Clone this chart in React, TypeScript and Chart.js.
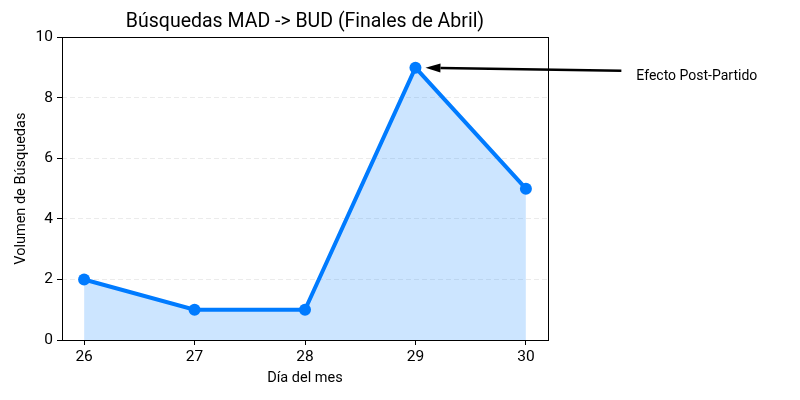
import React, { useEffect, useRef } from "react";
import { Chart, registerables } from "chart.js";

Chart.register(...registerables);

const days = [26, 27, 28, 29, 30];
const searches = [2, 1, 1, 9, 5];
const yTicks = [0, 2, 4, 6, 8, 10];
const annotationLabel = "Efecto Post-Partido";
const annotationPoint = { x: 29, y: 9 };
const annotationText = { x: 31.0, y: 8.7 };

const FONT = "Roboto, 'DejaVu Sans', sans-serif";

const decorPlugin = {
  id: "decor",
  afterDraw(chart: any) {
    const { ctx, chartArea, scales } = chart;
    ctx.save();
    ctx.strokeStyle = "#000";
    ctx.lineWidth = 1;
    ctx.strokeRect(
      Math.round(chartArea.left) + 0.5,
      Math.round(chartArea.top) + 0.5,
      Math.round(chartArea.right - chartArea.left),
      Math.round(chartArea.bottom - chartArea.top)
    );
    const px = scales.x.getPixelForValue(annotationPoint.x);
    const py = scales.y.getPixelForValue(annotationPoint.y);
    const tx = scales.x.getPixelForValue(annotationText.x);
    const ty = scales.y.getPixelForValue(annotationText.y);
    const tailX = tx - 15;
    const tailY = ty - 6;
    const tipX = px + 10;
    const tipY = py;
    const ang = Math.atan2(tipY - tailY, tipX - tailX);
    const headLen = 15;
    const headW = 4.5;
    const baseX = tipX - headLen * Math.cos(ang);
    const baseY = tipY - headLen * Math.sin(ang);
    ctx.strokeStyle = "#000";
    ctx.lineWidth = 2.5;
    ctx.beginPath();
    ctx.moveTo(tailX, tailY);
    ctx.lineTo(baseX, baseY);
    ctx.stroke();
    ctx.fillStyle = "#000";
    ctx.beginPath();
    ctx.moveTo(tipX, tipY);
    ctx.lineTo(baseX + headW * Math.sin(ang), baseY - headW * Math.cos(ang));
    ctx.lineTo(baseX - headW * Math.sin(ang), baseY + headW * Math.cos(ang));
    ctx.closePath();
    ctx.fill();
    ctx.font = `14px ${FONT}`;
    ctx.textAlign = "left";
    ctx.textBaseline = "middle";
    ctx.fillText(annotationLabel, tx, ty);
    ctx.restore();
  },
};

export default function App() {
  const ref = useRef<HTMLCanvasElement>(null);
  useEffect(() => {
    if (!ref.current) return;
    const chart = new Chart(ref.current, {
      type: "line",
      data: {
        datasets: [
          {
            data: days.map((d, i) => ({ x: d, y: searches[i] })),
            borderColor: "#007bff",
            backgroundColor: "rgba(0,123,255,0.2)",
            borderWidth: 4,
            fill: "origin",
            pointRadius: 6,
            pointHoverRadius: 6,
            pointBackgroundColor: "#007bff",
            pointBorderColor: "#007bff",
            pointBorderWidth: 0,
            tension: 0,
          },
        ],
      },
      options: {
        responsive: false,
        animation: false,
        layout: { padding: { left: 0, right: 252, top: 0, bottom: 0 } },
        plugins: {
          legend: { display: false },
          tooltip: { enabled: false },
          title: {
            display: true,
            text: "Búsquedas MAD -> BUD (Finales de Abril)",
            fullSize: false,
            color: "#000",
            font: { family: FONT, size: 19.5, weight: "normal" },
            padding: { top: 10, bottom: 4 },
          },
        },
        scales: {
          x: {
            type: "linear",
            min: 25.8,
            max: 30.2,
            afterBuildTicks: (s: any) => {
              s.ticks = days.map((d) => ({ value: d }));
            },
            afterFit: (s: any) => {
              s.height = 60;
            },
            grid: {
              display: true,
              drawOnChartArea: false,
              drawTicks: true,
              tickLength: 5,
              tickColor: "#000",
              color: "#000",
            },
            border: { display: false },
            ticks: {
              color: "#000",
              font: { family: FONT, size: 15.5 },
              padding: 3,
              maxRotation: 0,
              callback: (v: any) => String(v),
            },
            title: {
              display: true,
              text: "Día del mes",
              color: "#000",
              font: { family: FONT, size: 14.5 },
              padding: { top: 4, bottom: 13 },
            },
          },
          y: {
            min: 0,
            max: 10,
            afterBuildTicks: (s: any) => {
              s.ticks = yTicks.map((v) => ({ value: v }));
            },
            afterFit: (s: any) => {
              s.width = 62;
            },
            grid: {
              display: true,
              color: (c: any) =>
                c.tick && (c.tick.value === 0 || c.tick.value === 10)
                  ? "rgba(0,0,0,0)"
                  : "rgba(0,0,0,0.08)",
              tickBorderDash: [],
              drawTicks: true,
              tickLength: 5,
              tickColor: "#000",
              lineWidth: 1,
            },
            border: { display: false, dash: [5, 3] },
            ticks: {
              color: "#000",
              font: { family: FONT, size: 15.5 },
              padding: 4,
            },
            title: {
              display: true,
              text: "Volumen de Búsquedas",
              color: "#000",
              font: { family: FONT, size: 14.5 },
              padding: { top: 13, bottom: 0 },
            },
          },
        },
      },
      plugins: [decorPlugin],
    } as any);
    return () => chart.destroy();
  }, []);
  return (
    <div style={{ position: "fixed", left: 0, top: 0, width: 800, height: 400, background: "#fff" }}>
      <canvas ref={ref} width={800} height={400} />
    </div>
  );
}
